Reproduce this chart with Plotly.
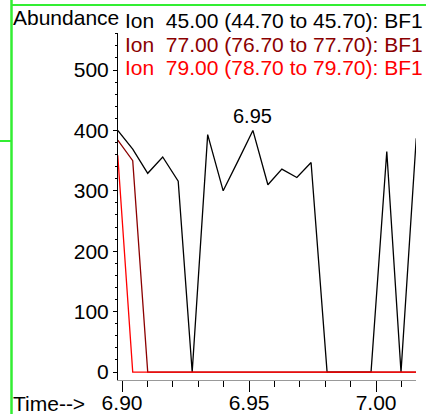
import plotly.graph_objects as go

# ---- data ----
times = [6.8983, 6.9042, 6.9101, 6.9160, 6.9221, 6.9276, 6.9337, 6.9398, 6.9457,
         6.9515, 6.9574, 6.9629, 6.9688, 6.9744, 6.9807, 6.9866, 6.9925, 6.9980,
         7.0042, 7.0098, 7.0158]
ion45 = [400, 369, 329, 356, 316, 0, 393, 300, 350,
         400, 310, 336, 322, 347, 0, 0, 0, 0,
         365, 0, 387]
ion77 = [384, 350, 0, 0, 0, 0, 0, 0, 0,
         0, 0, 0, 0, 0, 0, 0, 0, 0,
         0, 0, 0]
ion79 = [359, 0, 0, 0, 0, 0, 0, 0, 0,
         0, 0, 0, 0, 0, 0, 0, 0, 0,
         0, 0, 0]
labels = ["Ion  45.00 (44.70 to 45.70): BF1",
          "Ion  77.00 (76.70 to 77.70): BF1",
          "Ion  79.00 (78.70 to 79.70): BF1"]
colors = ["#000000", "#8b0000", "#ff0000"]
peak_label = "6.95"
peak_time = 6.9515
peak_value = 400

W, H = 426, 414
ML, MR, MT, MB = 118, 10, 33, 34
PW = W - ML - MR
PH = H - MT - MB


def px(x):
    return (x - ML) / PW


def py(y):
    return (H - MB - y) / PH


FONT = "Liberation Sans, Arial, sans-serif"
FS = 21

fig = go.Figure()
for vals, name, col in zip([ion45, ion77, ion79], labels, colors):
    fig.add_trace(go.Scatter(x=times, y=vals, mode="lines", name=name,
                             line=dict(color=col, width=1.3), cliponaxis=True))

annotations = [
    dict(text="Abundance", x=px(11), y=py(18), xref="paper", yref="paper",
         xanchor="left", yanchor="middle", showarrow=False,
         font=dict(family=FONT, size=FS, color="black")),
    dict(text="Time-->", x=px(11), y=py(403), xref="paper", yref="paper",
         xanchor="left", yanchor="middle", showarrow=False,
         font=dict(family=FONT, size=FS, color="black")),
    dict(text=peak_label, x=peak_time, y=peak_value, xref="x", yref="y",
         xanchor="center", yanchor="bottom", yshift=1, showarrow=False,
         font=dict(family=FONT, size=FS - 1, color="black")),
]
for i, (lab, col) in enumerate(zip(labels, colors)):
    annotations.append(dict(text=lab, x=px(123), y=py(20.5 + 23.5 * i),
                            xref="paper", yref="paper", xanchor="left",
                            yanchor="middle", showarrow=False,
                            font=dict(family=FONT, size=FS, color=col)))

green = "#33ee33"
shapes = [
    dict(type="line", xref="paper", yref="paper", x0=px(11.5), x1=px(11.5),
         y0=py(0), y1=py(414), line=dict(color=green, width=2.5)),
    dict(type="line", xref="paper", yref="paper", x0=px(11), x1=px(426),
         y0=py(5), y1=py(5), line=dict(color=green, width=2)),
    dict(type="line", xref="paper", yref="paper", x0=px(0), x1=px(11),
         y0=py(141), y1=py(141), line=dict(color=green, width=2)),
]

fig.update_layout(
    width=W, height=H,
    margin=dict(l=ML, r=MR, t=MT, b=MB, autoexpand=False),
    paper_bgcolor="white", plot_bgcolor="white",
    showlegend=False,
    annotations=annotations,
    shapes=shapes,
    font=dict(family=FONT, size=FS, color="black"),
)
fig.update_xaxes(
    range=[6.8984, 7.0157], showgrid=False, zeroline=False, automargin=False,
    showline=True, linecolor="#999999", linewidth=1,
    ticks="outside", ticklen=11, tickwidth=1, tickcolor="black",
    tick0=6.90, dtick=0.05, tickformat=".2f", ticklabelstandoff=-7,
    minor=dict(ticks="outside", ticklen=6, dtick=0.01, tick0=6.90,
               tickcolor="black", showgrid=False),
    tickfont=dict(family=FONT, size=FS, color="black"),
)
fig.update_yaxes(
    range=[-13.2, 561.3], showgrid=False, zeroline=False, automargin=False,
    showline=True, linecolor="black", linewidth=1,
    ticks="outside", ticklen=4, tickwidth=1, tickcolor="black",
    tick0=0, dtick=100,
    minor=dict(ticks="outside", ticklen=2, dtick=20, tickcolor="black",
               showgrid=False),
    tickfont=dict(family=FONT, size=FS, color="black"),
)

fig.write_html(
    "out.html",
    config={"displayModeBar": False, "staticPlot": True},
    post_script=["document.body.style.margin='0';document.body.style.overflow='hidden';"],
)
